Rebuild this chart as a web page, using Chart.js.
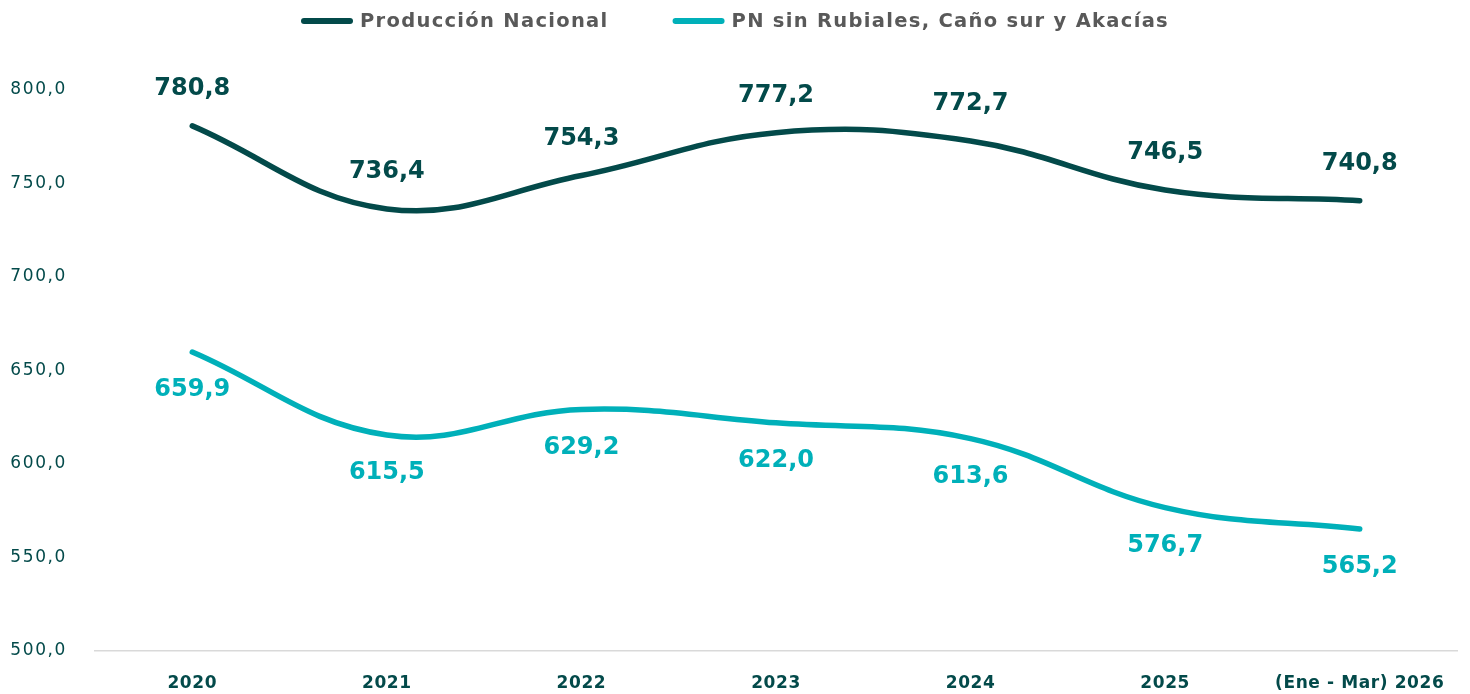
<!DOCTYPE html>
<html><head><meta charset="utf-8">
<script src="https://cdn.jsdelivr.net/npm/chart.js@4.4.1/dist/chart.umd.min.js"></script>
<style>html,body{margin:0;padding:0;background:#fff;} #wrap{width:1470px;height:694px;position:relative}</style>
</head><body><div id="wrap"><canvas id="c"></canvas></div>
<script>
const categories = ['2020', '2021', '2022', '2023', '2024', '2025', '(Ene - Mar) 2026'];
const produccionNacional = [780.8, 736.4, 754.3, 777.2, 772.7, 746.5, 740.8];
const pnSinRubiales = [659.9, 615.5, 629.2, 622.0, 613.6, 576.7, 565.2];
const seriesNames = ['Producción Nacional', 'PN sin Rubiales, Caño sur y Akacías'];
const yMin = 500, yMax = 800, yStep = 50;

const DARK = '#034a4a', CYAN = '#00b0b9';
const fmt = v => v.toFixed(1).replace('.', ',');

const spacingPlugin = {
  id: 'spacing',
  beforeDraw(chart) { chart.ctx.letterSpacing = '1.6px'; },
  afterDatasetsDraw(chart) { chart.ctx.letterSpacing = '0.6px'; }
};

const legendPlugin = {
  id: 'customLegend',
  afterDraw(chart) {
    const ctx = chart.ctx;
    ctx.save();
    ctx.font = 'bold 19.5px "DejaVu Sans"';
    ctx.letterSpacing = '1.3px';
    ctx.textBaseline = 'middle';
    ctx.textAlign = 'left';
    const lineW = 52, gapT = 7, gapItem = 64, y = 21;
    const items = chart.data.datasets.map(d => ({ text: d.label, color: d.borderColor, w: ctx.measureText(d.label).width }));
    const total = items.reduce((s, it) => s + lineW + gapT + it.w, 0) + gapItem * (items.length - 1);
    let x = chart.width / 2 - total / 2;
    items.forEach(it => {
      ctx.strokeStyle = it.color; ctx.lineWidth = 6; ctx.lineCap = 'round';
      ctx.beginPath(); ctx.moveTo(x + 3, y); ctx.lineTo(x + lineW - 3, y); ctx.stroke();
      ctx.fillStyle = '#595959';
      ctx.fillText(it.text, x + lineW + gapT, y + 1);
      x += lineW + gapT + it.w + gapItem;
    });
    ctx.restore();
  }
};

const labelPlugin = {
  id: 'dataLabels',
  afterDatasetsDraw(chart) {
    const ctx = chart.ctx;
    ctx.save();
    ctx.font = 'bold 24px "DejaVu Sans"';
    ctx.letterSpacing = '0px';
    ctx.textAlign = 'center';
    ctx.textBaseline = 'middle';
    chart.data.datasets.forEach((ds, i) => {
      const meta = chart.getDatasetMeta(i);
      meta.data.forEach((pt, j) => {
        ctx.fillStyle = ds.borderColor;
        const dy = i === 0 ? -37 : 38;
        ctx.fillText(fmt(ds.data[j]), pt.x, pt.y + dy);
      });
    });
    ctx.restore();
  }
};

new Chart(document.getElementById('c'), {
  type: 'line',
  data: {
    labels: categories,
    datasets: [
      { label: seriesNames[0], data: produccionNacional, borderColor: DARK, backgroundColor: DARK },
      { label: seriesNames[1], data: pnSinRubiales, borderColor: CYAN, backgroundColor: CYAN }
    ]
  },
  options: {
    responsive: true,
    maintainAspectRatio: false,
    animation: false,
    layout: { padding: { top: 90, left: 10, right: 13, bottom: 0 } },
    elements: {
      line: { borderWidth: 5.5, tension: 0.4, borderCapStyle: 'round', borderJoinStyle: 'round' },
      point: { radius: 0, hoverRadius: 0 }
    },
    datasets: { line: { clip: false } },
    plugins: { legend: { display: false }, tooltip: { enabled: false } },
    scales: {
      x: {
        offset: true,
        grid: { display: false, drawTicks: false },
        border: { display: true, color: '#d9d9d9', width: 1.5 },
        ticks: { z: 1, color: DARK, font: { family: 'DejaVu Sans', size: 17, weight: 'bold' }, padding: 22, autoSkip: false, maxRotation: 0 },
        afterFit(s) { s.height = 43; }
      },
      y: {
        min: yMin, max: yMax,
        grid: { display: false, drawTicks: false },
        border: { display: false },
        ticks: { stepSize: yStep, color: DARK, font: { family: 'DejaVu Sans', size: 17 }, padding: 28, callback: v => fmt(v) },
        afterFit(s) { s.width = 85; }
      }
    }
  },
  plugins: [spacingPlugin, legendPlugin, labelPlugin]
});
</script></body></html>
